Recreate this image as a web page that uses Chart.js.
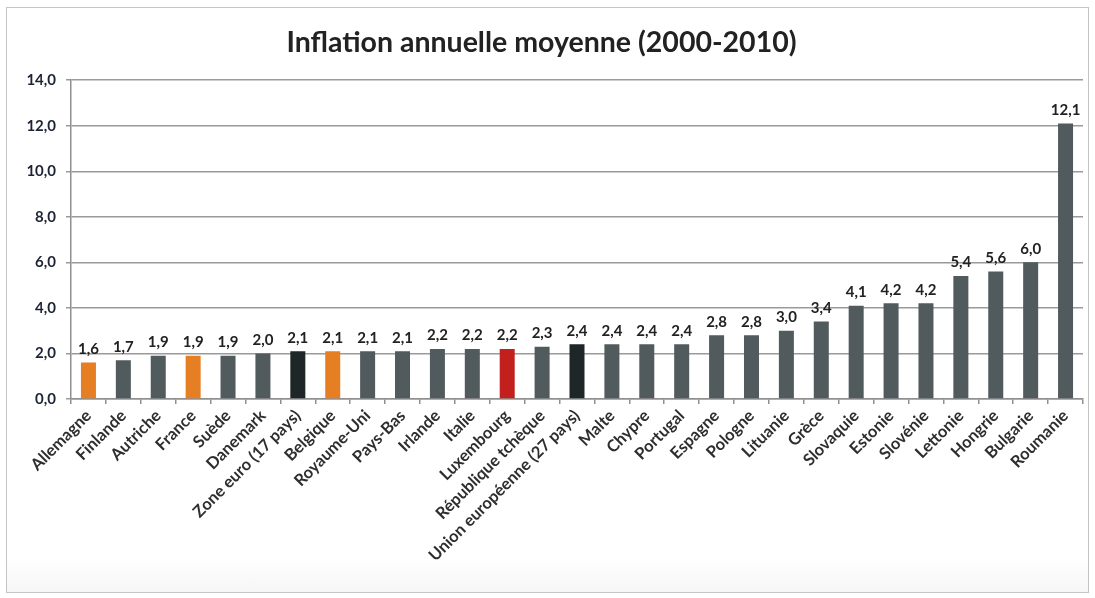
<!DOCTYPE html>
<html>
<head>
<meta charset="utf-8">
<script src="https://cdn.jsdelivr.net/npm/chart.js@4.4.1/dist/chart.umd.min.js"></script>
<style>
  html, body { margin: 0; padding: 0; background: #fff; }
  #frame { position: absolute; left: 6px; top: 7px; width: 1081px; height: 584px; border: 1px solid #c4c4c4;
           background: linear-gradient(#fff 0, #fff 94%, #f6f6f6 100%); }
  #wrap { position: absolute; left: 0; top: 0; width: 1095px; height: 598px; }
</style>
</head>
<body>
<div id="frame"></div>
<div id="wrap"><canvas id="inflChart" width="1095" height="598"></canvas></div>
<script>
const countries = ["Allemagne", "Finlande", "Autriche", "France", "Suède", "Danemark",
  "Zone euro (17 pays)", "Belgique", "Royaume-Uni", "Pays-Bas", "Irlande", "Italie",
  "Luxembourg", "République tchèque", "Union européenne (27 pays)", "Malte", "Chypre",
  "Portugal", "Espagne", "Pologne", "Lituanie", "Grèce", "Slovaquie", "Estonie",
  "Slovénie", "Lettonie", "Hongrie", "Bulgarie", "Roumanie"];
const inflation = [1.6, 1.7, 1.9, 1.9, 1.9, 2.0, 2.1, 2.1, 2.1, 2.1, 2.2, 2.2,
  2.2, 2.3, 2.4, 2.4, 2.4, 2.4, 2.8, 2.8, 3.0, 3.4, 4.1, 4.2, 4.2, 5.4, 5.6, 6.0, 12.1];
const highlightBE = ["Allemagne", "France", "Belgique"];
const aggregates = ["Zone euro (17 pays)", "Union européenne (27 pays)"];
const lux = "Luxembourg";

function barColor(name) {
  if (name === lux) return '#c1201c';
  if (highlightBE.includes(name)) return '#e67f24';
  if (aggregates.includes(name)) return '#1e2627';
  return '#515a5d';
}

const fmt = v => v.toFixed(1).replace('.', ',');

// value labels above the bars
const valueLabels = {
  id: 'valueLabels',
  afterDatasetsDraw(chart) {
    const ctx = chart.ctx;
    const meta = chart.getDatasetMeta(0);
    ctx.save();
    ctx.font = 'bold 15px Lato';
    ctx.fillStyle = '#222';
    ctx.textAlign = 'center';
    ctx.textBaseline = 'bottom';
    meta.data.forEach((bar, i) => {
      ctx.fillText(fmt(inflation[i]), bar.x, bar.y - 6);
    });
    ctx.restore();
  }
};

const ctx = document.getElementById('inflChart');

new Chart(ctx, {
  type: 'bar',
  data: {
    labels: countries,
    datasets: [{
      data: inflation,
      backgroundColor: countries.map(barColor),
      barPercentage: 0.43,
      categoryPercentage: 1
    }]
  },
  options: {
    responsive: false,
    animation: false,
    layout: { padding: { left: 0, right: 12, top: 0, bottom: 0 } },
    plugins: {
      legend: { display: false },
      tooltip: { enabled: false },
      title: {
        display: true,
        text: 'Inflation annuelle moyenne (2000-2010)',
        font: { family: 'Lato', size: 28.5, weight: 'bold' },
        color: '#222',
        padding: { top: 26, bottom: 20 }
      }
    },
    scales: {
      x: {
        offset: true,
        grid: { offset: true, drawOnChartArea: false, drawTicks: true, tickLength: 5, color: '#8f8f8f', lineWidth: 1.5 },
        border: { color: '#8f8f8f', width: 1.5 },
        ticks: {
          autoSkip: false,
          maxRotation: 45,
          minRotation: 45,
          padding: 2,
          color: '#2e2e2e',
          font: { family: 'Lato', size: 16.5, weight: 'bold' }
        },
        afterFit(scale) { scale.height = 599 - 400; }
      },
      y: {
        min: 0,
        max: 14,
        ticks: {
          stepSize: 2,
          padding: 10,
          color: '#1c2333',
          font: { family: 'Lato', size: 15, weight: 'bold' },
          callback: v => fmt(v)
        },
        grid: { color: '#9a9a9a', lineWidth: 1.5, tickLength: 5 },
        border: { color: '#8f8f8f', width: 1.5 },
        afterFit(scale) { scale.width = 71; }
      }
    }
  },
  plugins: [valueLabels]
});
</script>
</body>
</html>
